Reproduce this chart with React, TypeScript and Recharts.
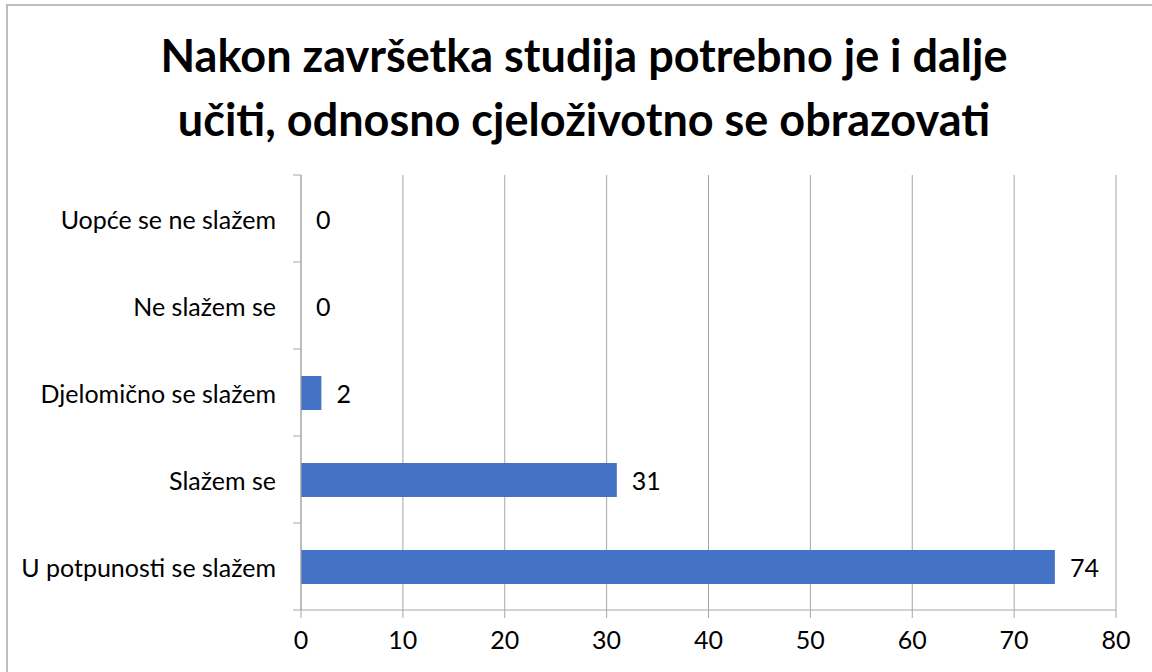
import { BarChart, Bar, XAxis, YAxis, CartesianGrid, ReferenceDot } from 'recharts';

const categories = [
  'Uopće se ne slažem',
  'Ne slažem se',
  'Djelomično se slažem',
  'Slažem se',
  'U potpunosti se slažem',
];
const responses = [0, 0, 2, 31, 74];
const xTicks = [0, 10, 20, 30, 40, 50, 60, 70, 80];

const titleLines = [
  'Nakon završetka studija potrebno je i dalje',
  'učiti, odnosno cjeloživotno se obrazovati',
];

const W = 1152;
const H = 672;
const PLOT_TOP = 175;
const PLOT_BOTTOM = 610;
const PLOT_LEFT = 301;
const PLOT_RIGHT = 1116;
const BAND = (PLOT_BOTTOM - PLOT_TOP) / categories.length;
const AXIS_GRAY = '#a6a6a6';
const FONT = 'Lato, "Open Sans", sans-serif';
const FS = 25;

const data = categories.map((name, i) => ({ name, value: responses[i] }));

function CategoryTick(props: any) {
  const { x, y, payload, index } = props;
  const last = index === categories.length - 1;
  return (
    <g>
      <line x1={PLOT_LEFT - 8} x2={PLOT_LEFT} y1={y - BAND / 2} y2={y - BAND / 2} stroke={AXIS_GRAY} />
      {last && (
        <line x1={PLOT_LEFT - 8} x2={PLOT_LEFT} y1={y + BAND / 2} y2={y + BAND / 2} stroke={AXIS_GRAY} />
      )}
      <text x={x} y={y} textAnchor="end" dominantBaseline="central" fill="#000" fontSize={FS} fontFamily={FONT}>
        {payload.value}
      </text>
    </g>
  );
}

// value label drawn next to the end of each bar (works for zero-length bars too)
function valueLabel(value: number) {
  return (props: any) => (
    <text
      x={Number(props.cx) + 15}
      y={Number(props.cy)}
      dominantBaseline="central"
      fill="#000"
      fontSize={FS}
      fontFamily={FONT}
    >
      {value}
    </text>
  );
}

export default function App() {
  return (
    <div style={{ position: 'fixed', left: 0, top: 0, width: W, height: H, overflow: 'hidden', background: '#fff' }}>
      <div
        style={{
          position: 'absolute',
          left: 6,
          top: 4,
          width: W + 40,
          height: H + 40,
          border: '2px solid #bdbdbd',
        }}
      />
      <div
        style={{
          position: 'absolute',
          left: 0,
          top: 23,
          width: 1168,
          textAlign: 'center',
          fontFamily: FONT,
          fontWeight: 700,
          fontSize: 45,
          lineHeight: '64px',
          color: '#000',
        }}
      >
        {titleLines.map((t) => (
          <div key={t}>{t}</div>
        ))}
      </div>
      <div style={{ position: 'absolute', left: 0, top: 0 }}>
        <BarChart
          width={W}
          height={H}
          data={data}
          layout="vertical"
          margin={{ top: PLOT_TOP, right: W - PLOT_RIGHT, bottom: 0, left: 0 }}
          barCategoryGap={0}
        >
          <CartesianGrid horizontal={false} vertical stroke={AXIS_GRAY} strokeWidth={1} />
          <XAxis
            type="number"
            domain={[0, 80]}
            ticks={xTicks}
            interval={0}
            height={H - PLOT_BOTTOM}
            axisLine={{ stroke: AXIS_GRAY }}
            tickLine={{ stroke: AXIS_GRAY }}
            tickSize={8}
            tickMargin={13}
            tick={{ fill: '#000', fontSize: FS, fontFamily: FONT }}
          />
          <YAxis
            type="category"
            dataKey="name"
            width={PLOT_LEFT}
            axisLine={{ stroke: AXIS_GRAY }}
            tickLine={false}
            tickSize={8}
            tickMargin={17}
            interval={0}
            tick={<CategoryTick />}
          />
          <Bar dataKey="value" fill="#4472c4" barSize={34} isAnimationActive={false} />
          {data.map((d) => (
            <ReferenceDot key={d.name} x={d.value} y={d.name} r={0} shape={valueLabel(d.value)} />
          ))}
        </BarChart>
      </div>
    </div>
  );
}
